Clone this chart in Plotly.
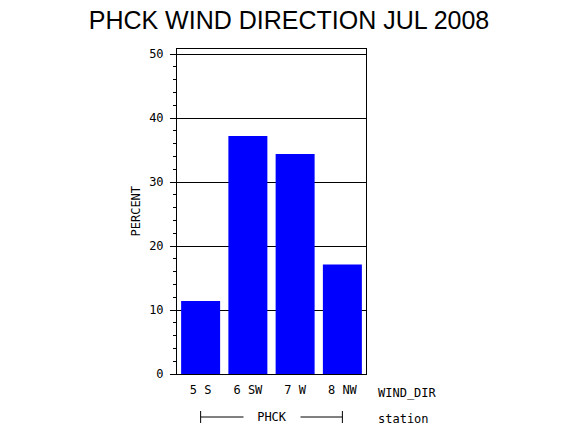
import plotly.graph_objects as go

# vindretning (kategori) og prosentandel
retninger = ["5 S", "6 SW", "7 W", "8 NW"]
prosent = [11.4, 37.2, 34.4, 17.1]
stasjon = "PHCK"
tittel = "PHCK WIND DIRECTION JUL 2008"

mono = "DejaVu Sans Mono"
tekst = dict(family=mono, size=12, color="black")

fig = go.Figure()

fig.add_trace(go.Bar(
    x=list(range(len(retninger))),
    y=prosent,
    marker=dict(color="#0000ff", line=dict(width=0)),
    showlegend=False
))

fig.update_xaxes(
    range=[-0.5, len(retninger) - 0.5],
    tickvals=list(range(len(retninger))),
    ticktext=retninger,
    tickfont=tekst,
    ticks="",
    ticklabelstandoff=5,
    showline=True, linecolor="black", linewidth=1, mirror=True,
    showgrid=False, zeroline=False
)

fig.update_yaxes(
    range=[0, 50.8],
    dtick=10,
    tickfont=tekst,
    ticks="outside", ticklen=6, tickcolor="black",
    ticklabelstandoff=4,
    minor=dict(dtick=2, ticks="outside", ticklen=3, tickcolor="black", showgrid=False),
    showline=True, linecolor="black", linewidth=1, mirror=True,
    showgrid=True, gridcolor="black", gridwidth=1, zeroline=False
)

# gruppeklamme for stasjon under søylene
fig.add_shape(type="line", xref="x", yref="paper", ysizemode="pixel", yanchor=0,
              x0=0, x1=len(retninger) - 1, y0=-43, y1=-43, line=dict(color="black", width=1))
for xe in [0, len(retninger) - 1]:
    fig.add_shape(type="line", xref="x", yref="paper", ysizemode="pixel", yanchor=0,
                  x0=xe, x1=xe, y0=-37, y1=-49, line=dict(color="black", width=1))

fig.add_annotation(text=stasjon, xref="x", yref="paper", x=(len(retninger) - 1) / 2, y=0,
                   yshift=-43, yanchor="middle", showarrow=False, bgcolor="white", width=54,
                   font=tekst)
fig.add_annotation(text="WIND_DIR", xref="paper", yref="paper", x=1, y=0, xshift=10,
                   yshift=-19, xanchor="left", yanchor="middle", showarrow=False, font=tekst)
fig.add_annotation(text="station", xref="paper", yref="paper", x=1, y=0, xshift=10,
                   yshift=-45, xanchor="left", yanchor="middle", showarrow=False, font=tekst)
fig.add_annotation(text="PERCENT", xref="paper", yref="paper", x=0, y=0.5, xshift=-42,
                   xanchor="center", yanchor="middle", textangle=-90, showarrow=False,
                   font=tekst)

fig.update_layout(
    title=dict(text=tittel, x=0.5, xanchor="center", y=0.972, yanchor="middle",
               font=dict(family="Liberation Sans", size=25, color="black")),
    bargap=0.175,
    plot_bgcolor="white",
    paper_bgcolor="white",
    width=562,
    height=422,
    margin=dict(l=169, r=204, t=41, b=56)
)

fig.write_html("out.html")
